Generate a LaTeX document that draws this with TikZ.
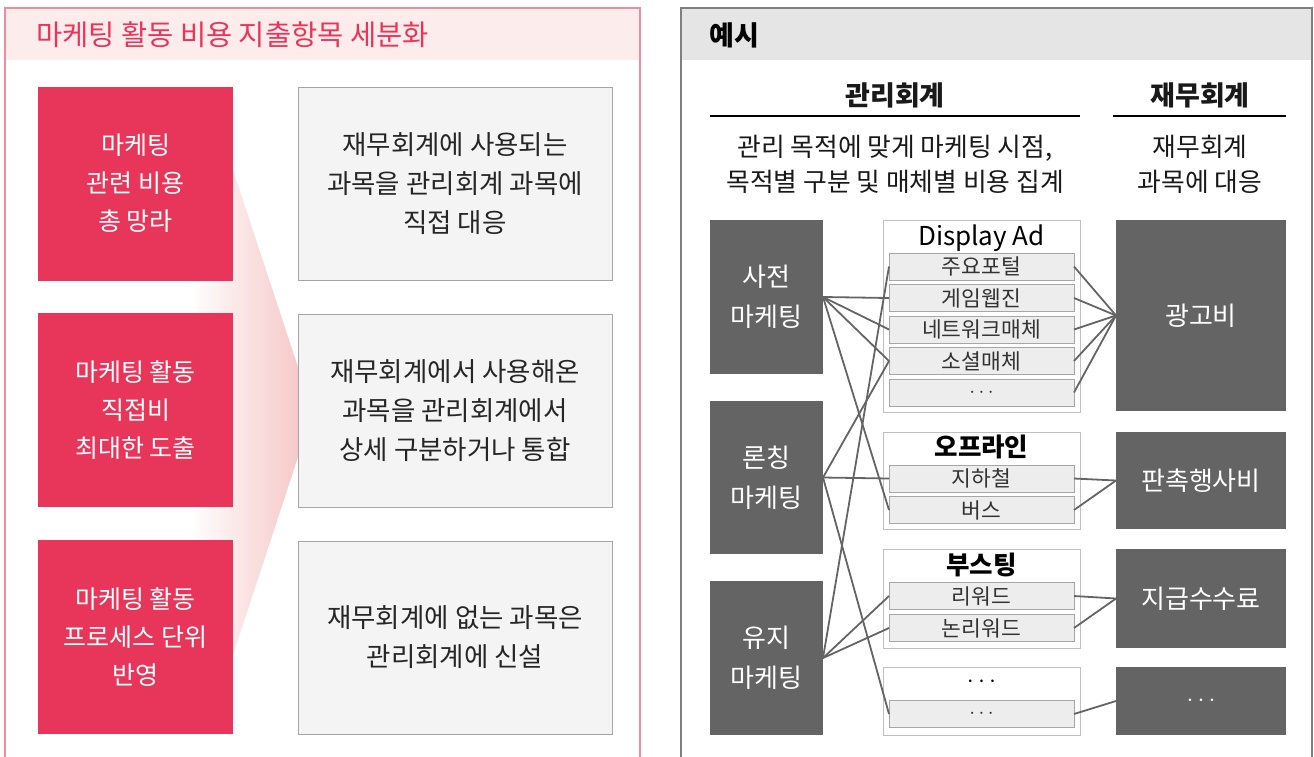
\documentclass[tikz,border=0pt]{standalone}
\usepackage{fontspec}
\setmainfont{Noto Sans CJK KR}
\definecolor{crim}{HTML}{E8365B}
\definecolor{pinkline}{HTML}{F08CA2}
\definecolor{pinkfill}{HTML}{FDECEC}
\definecolor{funnel}{HTML}{F6C9C9}
\definecolor{greyfill}{HTML}{F4F4F4}
\definecolor{greyline}{HTML}{A6A6A6}
\definecolor{dark}{HTML}{646464}
\definecolor{hdr}{HTML}{E5E5E5}
\definecolor{itemfill}{HTML}{EDEDED}
\definecolor{grpline}{HTML}{C0C0C0}
\definecolor{panel}{HTML}{7F7F7F}
\tikzset{
  redbox/.style={fill=crim, text=white, inner sep=0pt, outer sep=0pt, minimum width=195pt, minimum height=194pt, align=center, font=\fontsize{25}{38}\selectfont},
  greybox/.style={fill=greyfill, draw=greyline, line width=1pt, inner sep=0pt, outer sep=0pt, minimum width=314pt, minimum height=193pt, align=center, font=\fontsize{26.5}{39}\selectfont, text=black!85},
  darkbox/.style={fill=dark, text=white, inner sep=0pt, outer sep=0pt, align=center, font=\fontsize{26}{40}\selectfont},
  grpbox/.style={draw=grpline, fill=white, line width=1pt, inner sep=0pt, outer sep=0pt, minimum width=197pt},
  itembox/.style={draw=greyline, fill=itemfill, line width=1pt, inner sep=0pt, outer sep=0pt, minimum width=185pt, minimum height=27pt, font=\fontsize{21.5}{22}\selectfont, text=black!80},
  grptitle/.style={inner sep=0pt, font=\fontsize{25.5}{26}\selectfont\bfseries},
  conn/.style={draw=dark, line width=1.8pt},
  plain/.style={inner sep=0pt, align=center, text=black!90}
}
\begin{document}
\begin{tikzpicture}[x=1pt,y=-1pt]
\useasboundingbox (0,0) rectangle (1314,756);
% ---------- left panel ----------
\fill[pinkfill] (5,8) rectangle (640,60);
\draw[pinkline, line width=1.5pt] (5,760) -- (5,8) -- (640,8) -- (640,760);
\node[anchor=west, inner sep=0pt, text=crim, font=\fontsize{28.5}{30}\selectfont] (ltitle) at (36,35) {마케팅 활동 비용 지출항목 세분화};
% funnel
\shade[left color=white, right color=funnel] (190,170) -- (233,170) -- (298,367) -- (298,457) -- (233,655) -- (190,655) -- cycle;
\node[redbox] (r1) at (135.5,183.5) {마케팅\\관련 비용\\총 망라};
\node[redbox] (r2) at (135.5,410) {마케팅 활동\\직접비\\최대한 도출};
\node[redbox] (r3) at (135.5,637) {마케팅 활동\\프로세스 단위\\반영};
\node[greybox] (g1) at (455,183.5) {재무회계에 사용되는\\과목을 관리회계 과목에\\직접 대응};
\node[greybox] (g2) at (455,410.5) {재무회계에서 사용해온\\과목을 관리회계에서\\상세 구분하거나 통합};
\node[greybox] (g3) at (455,637.5) {재무회계에 없는 과목은\\관리회계에 신설};
% ---------- right panel ----------
\fill[hdr] (681,8) rectangle (1312,60);
\draw[panel, line width=1.2pt] (681,760) -- (681,8) -- (1312,8) -- (1312,760);
\node[anchor=west, inner sep=0pt, font=\fontsize{27}{28}\selectfont\bfseries] (rtitle) at (709,35) {예시};
\node[plain, font=\fontsize{27}{28}\selectfont\bfseries] (mgmt) at (895,95) {관리회계};
\node[plain, font=\fontsize{27}{28}\selectfont\bfseries] (fin) at (1200,95) {재무회계};
\coordinate (ml1) at (710,116); \coordinate (ml2) at (1080,116);
\coordinate (fl1) at (1113,116); \coordinate (fl2) at (1286,116);
\draw[line width=1.2pt] (ml1) -- (ml2);
\draw[line width=1.2pt] (fl1) -- (fl2);
\node[plain, font=\fontsize{25.8}{35}\selectfont] (mgmtd) at (895,164.5) {관리 목적에 맞게 마케팅 시점,\\목적별 구분 및 매체별 비용 집계};
\node[plain, font=\fontsize{25.8}{35}\selectfont] (find) at (1200,164.5) {재무회계\\과목에 대응};
% left dark boxes
\node[darkbox, minimum width=113pt, minimum height=154pt] (pre) at (766.5,297) {사전\\마케팅};
\node[darkbox, minimum width=113pt, minimum height=153pt] (lau) at (766.5,477.5) {론칭\\마케팅};
\node[darkbox, minimum width=113pt, minimum height=154pt] (kee) at (766.5,658) {유지\\마케팅};
% groups
\node[grpbox, minimum height=192pt] (grp1) at (981.5,316) {};
\node[grpbox, minimum height=97pt] (grp2) at (981.5,480.5) {};
\node[grpbox, minimum height=99pt] (grp3) at (981.5,598.5) {};
\node[grpbox, minimum height=68pt] (grp4) at (981.5,701) {};
\node[inner sep=0pt, font=\fontsize{26}{26}\selectfont] (t1) at (981.5,238) {Display Ad};
\node[grptitle] (t2) at (981.5,447) {오프라인};
\node[grptitle] (t3) at (981.5,565) {부스팅};
\node[grptitle] (t4) at (981.5,682) {$\cdots$};
\node[itembox] (i1) at (981.5,266.5) {주요포털};
\node[itembox] (i2) at (981.5,298) {게임웹진};
\node[itembox] (i3) at (981.5,329.5) {네트워크매체};
\node[itembox] (i4) at (981.5,361) {소셜매체};
\node[itembox] (i5) at (981.5,392.5) {$\cdots$};
\node[itembox] (i6) at (981.5,478.5) {지하철};
\node[itembox] (i7) at (981.5,510) {버스};
\node[itembox] (i8) at (981.5,596) {리워드};
\node[itembox] (i9) at (981.5,628) {논리워드};
\node[itembox] (i10) at (981.5,714) {$\cdots$};
% right dark boxes
\node[darkbox, minimum width=170pt, minimum height=191pt] (ad) at (1201,315.5) {광고비};
\node[darkbox, minimum width=170pt, minimum height=97pt] (promo) at (1201,480.5) {판촉행사비};
\node[darkbox, minimum width=170pt, minimum height=99pt] (fee) at (1201,598.5) {지급수수료};
\node[darkbox, minimum width=170pt, minimum height=68pt] (etc) at (1201,701) {$\cdots$};
% connectors left
\draw[conn] (pre.east) -- (i2.west);
\draw[conn] (pre.east) -- (i3.west);
\draw[conn] (pre.east) -- (i4.west);
\draw[conn] (pre.east) -- (i7.west);
\draw[conn] (lau.east) -- (i4.west);
\draw[conn] (lau.east) -- (i6.west);
\draw[conn] (lau.east) -- (i10.west);
\draw[conn] (kee.east) -- (i1.west);
\draw[conn] (kee.east) -- (i8.west);
\draw[conn] (kee.east) -- (i9.west);
% connectors right
\foreach \i in {i1,i2,i3,i4,i5} {\draw[conn] (\i.east) -- (ad.west);}
\draw[conn] (i6.east) -- (promo.west);
\draw[conn] (i7.east) -- (promo.west);
\draw[conn] (i8.east) -- (fee.west);
\draw[conn] (i9.east) -- (fee.west);
\draw[conn] (i10.east) -- (etc.west);
\end{tikzpicture}
\end{document}
